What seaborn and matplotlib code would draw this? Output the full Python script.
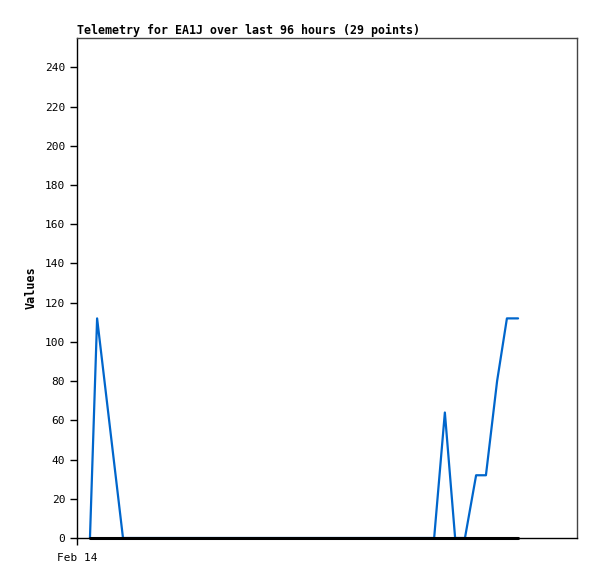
import pandas as pd
import matplotlib
matplotlib.use("Agg")
import matplotlib.pyplot as plt
import seaborn as sns

# ------------------------------------------------------------
# Telemetry data (hours since Feb 14 00:00, values)
# ------------------------------------------------------------

hours = [
    2.9, 4.5, 10.3, 14.2, 18.0, 21.9, 25.8, 29.7, 33.5, 37.4,
    41.3, 45.2, 49.0, 52.9, 56.8, 60.7, 64.5, 68.4, 72.3, 76.1,
    80.0, 82.4, 84.7, 86.9, 89.4, 91.6, 94.1, 96.3, 98.8
]

blue_values = [
    0, 112, 0, 0, 0, 0, 0, 0, 0, 0,
    0, 0, 0, 0, 0, 0, 0, 0, 0, 0,
    0, 64, 0, 0, 32, 32, 80, 112, 112
]

black_values = [0] * len(hours)

tick_positions = [0]
tick_labels = ["Feb 14"]

df = pd.DataFrame({
    "hours": hours,
    "blue": blue_values,
    "black": black_values
})

sns.set_style("white")
plt.rcParams["font.family"] = ["DejaVu Sans Mono"]
plt.rcParams["text.color"] = "black"
plt.rcParams["axes.labelcolor"] = "black"

fig = plt.figure(figsize=(5.97, 5.79), dpi=100)
ax = fig.add_axes([0.129, 0.0708, 0.8375, 0.8636])

sns.lineplot(x="hours", y="blue", data=df, ax=ax,
             color="#0066cc", linewidth=1.6, zorder=2)
sns.lineplot(x="hours", y="black", data=df, ax=ax,
             color="black", linewidth=2.2, zorder=3)

# keep the zero lines from being clipped at the bottom edge
for line in ax.get_lines():
    line.set_clip_on(False)

ax.set_xlim(0, 112)
ax.set_ylim(0, 255)
ax.set_yticks(range(0, 241, 20))
ax.set_xticks(tick_positions)
ax.set_xticklabels(tick_labels)

ax.tick_params(axis="both", direction="out", length=5, width=1,
               colors="black", labelsize=8, left=True, bottom=True)
ax.tick_params(axis="x", pad=6)

for side in ["left", "bottom"]:
    ax.spines[side].set_color("black")
    ax.spines[side].set_linewidth(1)
for side in ["top", "right"]:
    ax.spines[side].set_color("#444444")
    ax.spines[side].set_linewidth(1)

ax.set_xlabel("")
ax.set_ylabel("Values", fontsize=8.5, fontweight="bold", labelpad=5,
              color="black")
ax.set_title("Telemetry for EA1J over last 96 hours (29 points)",
             fontsize=8.4, fontweight="bold", loc="left", pad=3,
             color="black")

fig.savefig("out.png", dpi=100)
plt.close(fig)
